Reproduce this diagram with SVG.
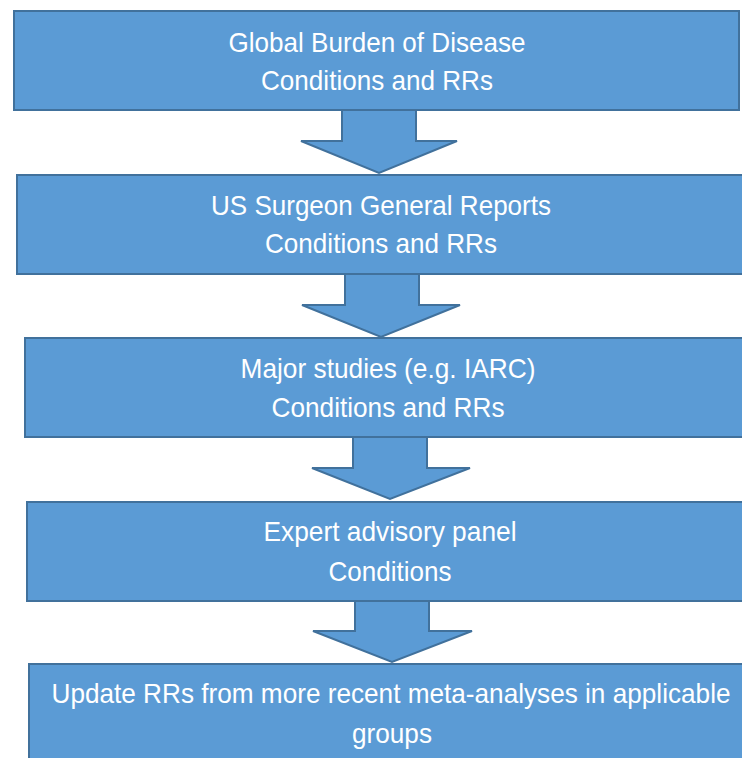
<svg xmlns="http://www.w3.org/2000/svg" width="742" height="758" viewBox="0 0 742 758">
<style>
.box{fill:#5B9BD5;stroke:#41719C;stroke-width:2}
.arr{fill:#5B9BD5;stroke:#41719C;stroke-width:2;stroke-linejoin:miter}
.t{fill:#FFFFFF;font-family:"Liberation Sans",Arial,sans-serif;font-size:28px;text-anchor:middle}
</style>
<rect width="742" height="758" fill="#FFFFFF"/>
<g id="connectors">
<polygon class="arr" points="342,110 416,110 416,141 457,141 379,173 301,141 342,141"/>
<polygon class="arr" points="345,274 419,274 419,305 460,305 381,337 302,305 345,305"/>
<polygon class="arr" points="353,437 427,437 427,468 470,468 390,499 312,468 353,468"/>
<polygon class="arr" points="355,601 429,601 429,631 472,631 392,662 313,631 355,631"/>
</g>
<g id="node1">
<rect class="box" x="14" y="11" width="725" height="99"/>
<text class="t" x="377" y="52" textLength="297" lengthAdjust="spacingAndGlyphs">Global Burden of Disease</text>
<text class="t" x="377" y="90" textLength="232" lengthAdjust="spacingAndGlyphs">Conditions and RRs</text>
</g>
<g id="node2">
<rect class="box" x="17" y="175" width="735" height="99"/>
<text class="t" x="381" y="215" textLength="340" lengthAdjust="spacingAndGlyphs">US Surgeon General Reports</text>
<text class="t" x="381" y="253" textLength="232" lengthAdjust="spacingAndGlyphs">Conditions and RRs</text>
</g>
<g id="node3">
<rect class="box" x="25" y="338" width="735" height="99"/>
<text class="t" x="388" y="378" textLength="295" lengthAdjust="spacingAndGlyphs">Major studies (e.g. IARC)</text>
<text class="t" x="388" y="417" textLength="233" lengthAdjust="spacingAndGlyphs">Conditions and RRs</text>
</g>
<g id="node4">
<rect class="box" x="27" y="502" width="735" height="99"/>
<text class="t" x="390" y="541" textLength="253" lengthAdjust="spacingAndGlyphs">Expert advisory panel</text>
<text class="t" x="390" y="581" textLength="123" lengthAdjust="spacingAndGlyphs">Conditions</text>
</g>
<g id="node5">
<rect class="box" x="29" y="664" width="735" height="110"/>
<text class="t" x="391" y="703" textLength="679" lengthAdjust="spacingAndGlyphs">Update RRs from more recent meta-analyses in applicable</text>
<text class="t" x="392" y="743" textLength="80" lengthAdjust="spacingAndGlyphs">groups</text>
</g>
</svg>
